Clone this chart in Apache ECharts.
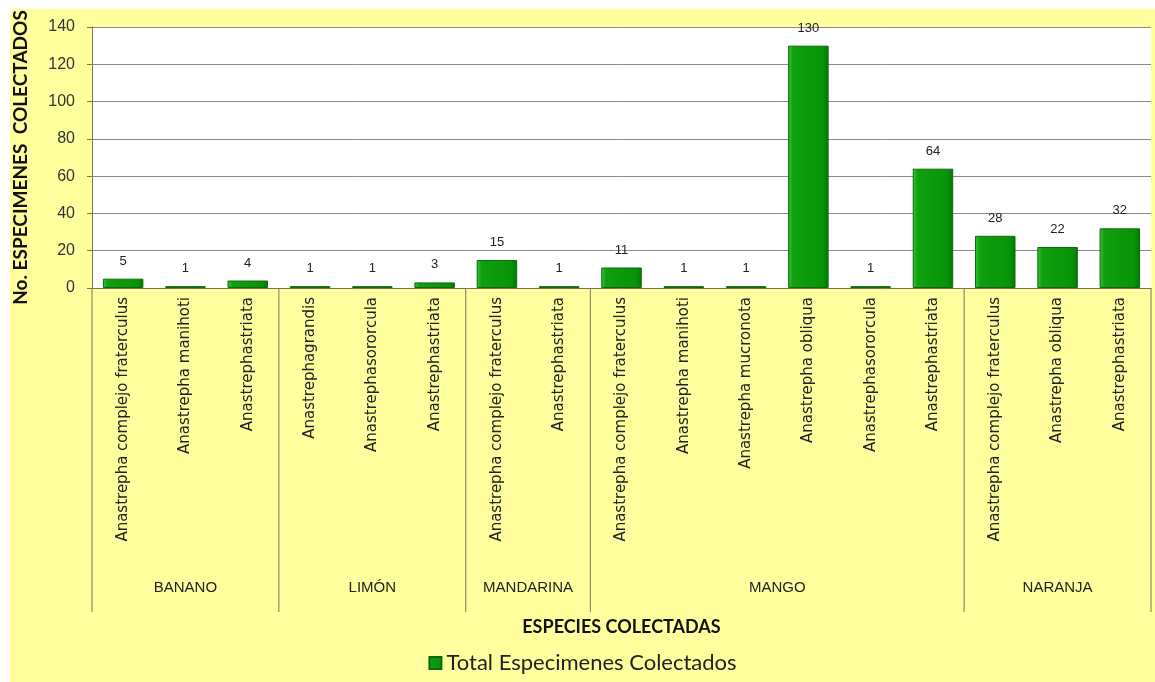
<!DOCTYPE html>
<html>
<head>
<meta charset="utf-8">
<script src="https://cdn.jsdelivr.net/npm/echarts@6/dist/echarts.min.js"></script>
<style>
  html, body { margin: 0; padding: 0; background: #ffffff; }
  #chart { position: absolute; left: 10px; top: 9px; width: 1145px; height: 673px; background: #FFFF9E; }
</style>
</head>
<body>
<div id="chart"></div>
<script>
// Species collected per host fruit
const species = [
  'Anastrepha complejo fraterculus', 'Anastrepha manihoti', 'Anastrephastriata',
  'Anastrephagrandis', 'Anastrephasororcula', 'Anastrephastriata',
  'Anastrepha complejo fraterculus', 'Anastrephastriata',
  'Anastrepha complejo fraterculus', 'Anastrepha manihoti', 'Anastrepha mucronota',
  'Anastrepha obliqua', 'Anastrephasororcula', 'Anastrephastriata',
  'Anastrepha complejo fraterculus', 'Anastrepha obliqua', 'Anastrephastriata'
];
const totals = [5, 1, 4, 1, 1, 3, 15, 1, 11, 1, 1, 130, 1, 64, 28, 22, 32];

// Host fruits and how many species rows each one spans
const hosts = ['BANANO', 'LIMÓN', 'MANDARINA', 'MANGO', 'NARANJA'];
const hostSpans = [3, 3, 2, 6, 3];

const yTicks = { min: 0, max: 140, interval: 20 };

const chart = echarts.init(document.getElementById('chart'));

const barFill = new echarts.graphic.LinearGradient(0, 0, 1, 0, [
  { offset: 0, color: '#3cc23c' },
  { offset: 0.12, color: '#0f9f0f' },
  { offset: 0.85, color: '#089408' },
  { offset: 1, color: '#057505' }
]);

chart.setOption({
  backgroundColor: 'transparent',
  textStyle: { fontFamily: 'Liberation Sans, Arial, sans-serif' },
  grid: {
    left: 82, right: 4, top: 18, bottom: 394,
    containLabel: false,
    outerBoundsMode: 'none',
    show: true, backgroundColor: '#ffffff', borderWidth: 0
  },
  legend: {
    bottom: 3, left: 'center',
    itemWidth: 12, itemHeight: 12, itemGap: 6,
    icon: 'rect',
    textStyle: { fontFamily: 'Lato, Noto Sans, sans-serif', fontSize: 22, color: '#222' },
    data: ['Total Especimenes Colectados']
  },
  xAxis: {
    type: 'category',
    data: species,
    name: 'ESPECIES COLECTADAS',
    nameLocation: 'middle',
    nameGap: 330,
    nameTextStyle: { fontFamily: 'Lato, Noto Sans, sans-serif', fontWeight: 'bold', fontSize: 18, color: '#111' },
    axisLine: { lineStyle: { color: '#77775a', width: 1 } },
    axisTick: { show: false },
    axisLabel: {
      interval: 0, rotate: 90, margin: 9,
      fontFamily: 'DejaVu Sans, Noto Sans, sans-serif', fontSize: 15, color: '#222'
    }
  },
  yAxis: {
    type: 'value',
    min: yTicks.min, max: yTicks.max, interval: yTicks.interval,
    name: 'No. ESPECIMENES  COLECTADOS',
    nameLocation: 'middle',
    nameRotate: 90,
    nameGap: 62,
    nameTextStyle: { fontFamily: 'Lato, Noto Sans, sans-serif', fontWeight: 'bold', fontSize: 19, color: '#111' },
    axisLine: { show: true, lineStyle: { color: '#77775a' } },
    axisTick: { show: true, length: 5, lineStyle: { color: '#77775a' } },
    axisLabel: { fontSize: 16, color: '#333', margin: 17 },
    splitLine: { lineStyle: { color: '#8a8a8a', width: 1 } }
  },
  series: [{
    name: 'Total Especimenes Colectados',
    type: 'bar',
    data: totals,
    barWidth: '65%',
    itemStyle: { color: barFill, borderColor: '#0b6b0b', borderWidth: 1 },
    label: {
      show: true, position: 'top', distance: 11,
      fontSize: 13, color: '#222'
    }
  }]
});

// Host group labels and separators, placed from the category axis scale
function drawGroups() {
  const c0 = chart.convertToPixel({ xAxisIndex: 0 }, 0);
  const c1 = chart.convertToPixel({ xAxisIndex: 0 }, 1);
  const band = c1 - c0;
  const axisY = chart.convertToPixel({ yAxisIndex: 0 }, 0);
  const elements = [];
  let start = 0;
  const boundary = i => c0 - band / 2 + i * band;
  elements.push({
    type: 'line', shape: { x1: boundary(0), y1: axisY, x2: boundary(0), y2: axisY + 324 },
    style: { stroke: '#77775a', lineWidth: 1 }
  });
  hosts.forEach((h, k) => {
    const end = start + hostSpans[k];
    const xr = boundary(end);
    elements.push({
      type: 'line', shape: { x1: xr, y1: axisY, x2: xr, y2: axisY + 324 },
      style: { stroke: '#77775a', lineWidth: 1 }
    });
    elements.push({
      type: 'text',
      x: (boundary(start) + xr) / 2, y: axisY + 300,
      style: {
        text: h, fill: '#222', fontSize: 15,
        fontFamily: 'Liberation Sans, Arial, sans-serif',
        align: 'center', verticalAlign: 'middle'
      }
    });
    start = end;
  });
  chart.setOption({ graphic: elements });
}
drawGroups();
</script>
</body>
</html>
